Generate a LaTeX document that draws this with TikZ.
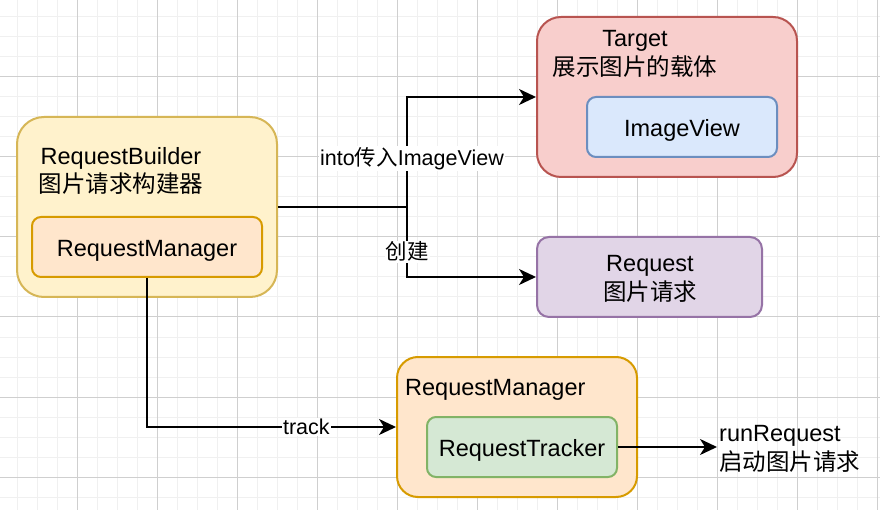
\documentclass[tikz,border=0pt]{standalone}
\usepackage{fontspec}
\setmainfont{Liberation Sans}
\newfontfamily\cjk{Noto Sans CJK SC}
\usetikzlibrary{arrows.meta}

\definecolor{yellowfill}{HTML}{FFF2CC}
\definecolor{yellowline}{HTML}{D6B656}
\definecolor{orangefill}{HTML}{FFE6CC}
\definecolor{orangeline}{HTML}{D79B00}
\definecolor{redfill}{HTML}{F8CECC}
\definecolor{redline}{HTML}{B85450}
\definecolor{bluefill}{HTML}{DAE8FC}
\definecolor{blueline}{HTML}{6C8EBF}
\definecolor{purplefill}{HTML}{E1D5E7}
\definecolor{purpleline}{HTML}{9673A6}
\definecolor{greenfill}{HTML}{D5E8D4}
\definecolor{greenline}{HTML}{82B366}

\tikzset{
    box/.style={draw, line width=2pt, inner sep=0pt, text height=24pt, text depth=5pt},
    link/.style={draw=black, line width=2pt, -{Stealth[length=17pt,width=16pt,inset=5pt]}},
    tag/.style={fill=white, inner sep=1pt, font=\fontsize{21.5}{26}\selectfont},
    minorgrid/.style={draw=black!6, line width=1pt},
    majorgrid/.style={draw=black!19, line width=1pt}
}

\begin{document}
\begin{tikzpicture}[x=1pt, y=-1pt, font=\fontsize{23.5}{28.5}\selectfont]
    \useasboundingbox (0,0) rectangle (880,510);
    \fill[white] (0,0) rectangle (880,510);

    % grid
    \foreach \gx in {17,37,...,877} \draw[minorgrid] (\gx,0) -- (\gx,510);
    \foreach \gy in {17,37,...,497} \draw[minorgrid] (0,\gy) -- (880,\gy);
    \foreach \gx in {77,157,...,877} \draw[majorgrid] (\gx,0) -- (\gx,510);
    \foreach \gy in {77,157,...,477} \draw[majorgrid] (0,\gy) -- (880,\gy);

    % boxes
    \node[box, draw=yellowline, fill=yellowfill, minimum width=260pt, minimum height=180pt, rounded corners=27pt] (builder) at (147,207) {};
    \node[align=center] (builder_text) at (121,171) {RequestBuilder\\{\cjk 图片请求构建器}};
    \node[box, draw=orangeline, fill=orangefill, minimum width=230pt, minimum height=60pt, rounded corners=9pt] (mgr) at (147,247) {RequestManager};

    \node[box, draw=redline, fill=redfill, minimum width=260pt, minimum height=160pt, rounded corners=24pt] (target) at (667,97) {};
    \node[align=center] (target_text) at (635,54) {Target\\{\cjk 展示图片的载体}};
    \node[box, draw=blueline, fill=bluefill, minimum width=190pt, minimum height=60pt, rounded corners=9pt] (view) at (682,127) {ImageView};

    \node[box, draw=purpleline, fill=purplefill, minimum width=225pt, minimum height=80pt, rounded corners=12pt] (request) at (649.5,277) {};
    \node[align=center] (request_text) at (650,279) {Request\\{\cjk 图片请求}};

    \node[box, draw=orangeline, fill=orangefill, minimum width=240pt, minimum height=140pt, rounded corners=21pt] (manager) at (517,427) {};
    \node[anchor=west, inner sep=0pt] (manager_text) at (405,390) {RequestManager};
    \node[box, draw=greenline, fill=greenfill, minimum width=190pt, minimum height=60pt, rounded corners=9pt] (tracker) at (522,447) {RequestTracker};

    \node[anchor=west, align=left, inner sep=2pt] (run) at (717,449) {runRequest\\{\cjk 启动图片请求}};

    % connectors
    \coordinate (fork) at (407,207);
    \draw[draw=black, line width=2pt] (builder.east) -- (fork);
    \draw[link] (fork) |- (target.west) node[tag, pos=0.22, xshift=5pt] {into{\cjk 传入}ImageView};
    \draw[link] (fork) |- (request.west) node[tag, pos=0.32] {{\cjk 创建}};
    \draw[link] (mgr.south) |- (manager.west) node[tag, pos=0.82] {track};
    \draw[link] (tracker.east) -- (tracker.east -| run.west);
\end{tikzpicture}
\end{document}
